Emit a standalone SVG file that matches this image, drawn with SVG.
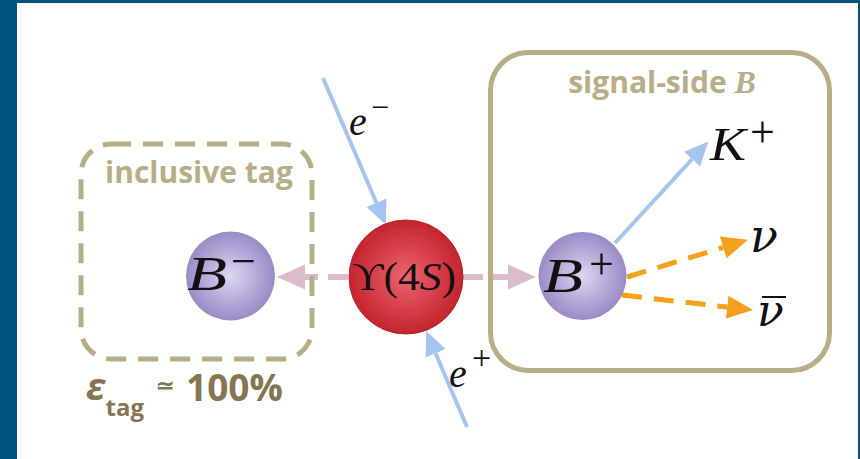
<svg xmlns="http://www.w3.org/2000/svg" width="860" height="459" viewBox="0 0 860 459">
  <style>
    .math { font-family: "Liberation Serif", "DejaVu Serif", serif; fill: #111; }
    .greek { font-family: "DejaVu Serif", "Liberation Serif", serif; font-style: italic; fill: #111; }
    .it { font-style: italic; }
    .boxlabel { font-family: "Open Sans", "Liberation Sans", sans-serif; font-weight: bold; fill: #b7ad87; }
    .eff { font-family: "Open Sans", "Liberation Sans", sans-serif; font-weight: bold; fill: #857552; }
    .box { fill: none; stroke: #b7ad87; stroke-width: 5; }
    .beam { stroke: #a6c4f0; stroke-width: 4; fill: none; }
    .nu { stroke: #f5a11c; stroke-width: 5; stroke-dasharray: 20 12; fill: none; }
    .decay { stroke: #dbbccb; stroke-width: 6; stroke-dasharray: 20 10; fill: none; }
  </style>
  <defs>
    <radialGradient id="gradB" cx="50%" cy="50%" r="50%">
      <stop offset="0" stop-color="#ddd6f3"/>
      <stop offset="1" stop-color="#9a8ac6"/>
    </radialGradient>
    <radialGradient id="gradU" cx="50%" cy="50%" r="50%">
      <stop offset="0" stop-color="#ec6470"/>
      <stop offset="1" stop-color="#c4242d"/>
    </radialGradient>
    <marker id="headBlue" markerUnits="userSpaceOnUse" markerWidth="24" markerHeight="24" refX="0" refY="10" orient="auto" viewBox="0 0 22 20">
      <path d="M0,0 L22,10 L0,20 z" fill="#a6c4f0"/>
    </marker>
    <marker id="headOrange" markerUnits="userSpaceOnUse" markerWidth="26" markerHeight="24" refX="0" refY="11" orient="auto" viewBox="0 0 25 22">
      <path d="M0,0 L25,11 L0,22 z" fill="#f5a11c"/>
    </marker>
    <marker id="headPink" markerUnits="userSpaceOnUse" markerWidth="28" markerHeight="26" refX="0" refY="12.5" orient="auto" viewBox="0 0 28 25">
      <path d="M0,0 L28,12.5 L0,25 z" fill="#dbbccb"/>
    </marker>
  </defs>

  <!-- page background and frame -->
  <rect x="0" y="0" width="860" height="459" fill="#ffffff"/>
  <rect x="0" y="0" width="17" height="459" fill="#02547f"/>
  <rect x="0" y="0" width="860" height="3" fill="#02547f"/>
  <rect x="858" y="0" width="2" height="459" fill="#02547f"/>

  <!-- connectors -->
  <g id="connectors">
    <!-- Upsilon(4S) -> B- and B+ -->
    <line class="decay" x1="348" y1="277" x2="305" y2="277" marker-end="url(#headPink)"/>
    <line class="decay" x1="463" y1="277" x2="508" y2="277" marker-end="url(#headPink)"/>
    <!-- incoming beams -->
    <line class="beam" x1="323" y1="78" x2="376.4" y2="202.8" marker-end="url(#headBlue)"/>
    <line class="beam" x1="467" y1="427" x2="435.6" y2="353.2" marker-end="url(#headBlue)"/>
    <!-- B+ decay products -->
    <line class="beam" x1="615" y1="243" x2="692.1" y2="159.2" marker-end="url(#headBlue)"/>
    <line class="nu" x1="627" y1="277" x2="723.1" y2="247.4" marker-end="url(#headOrange)"/>
    <line class="nu" x1="622" y1="295" x2="727.2" y2="307.1" marker-end="url(#headOrange)"/>
  </g>

  <!-- tag side -->
  <g id="tag-box">
    <rect class="box" x="81" y="144" width="231" height="215" rx="30" ry="30" stroke-dasharray="20 12"/>
    <text class="boxlabel" x="199" y="183" font-size="30" text-anchor="middle">inclusive tag</text>
  </g>

  <!-- signal side -->
  <g id="signal-box">
    <rect class="box" x="490.5" y="52.5" width="339" height="318" rx="38" ry="38"/>
    <text class="boxlabel" x="662" y="93" font-size="30" text-anchor="middle">signal-side <tspan font-family="Liberation Serif, serif" font-style="italic" font-size="32">B</tspan></text>
  </g>

  <g id="efficiency">
    <text class="eff" x="86" y="400" font-size="38"><tspan font-style="italic">ε</tspan><tspan font-size="24" dy="16">tag</tspan></text>
    <text class="eff" x="156" y="393" font-size="22">≃</text>
    <text class="eff" x="186" y="401" font-size="37">100%</text>
  </g>

  <g id="B-minus">
    <circle cx="230.5" cy="276" r="44.5" fill="url(#gradB)"/>
    <text class="math it" x="187" y="290" font-size="48" textLength="40" lengthAdjust="spacingAndGlyphs">B</text>
    <text class="math" x="231" y="276" font-size="44">−</text>
  </g>

  <g id="upsilon">
    <circle cx="406" cy="277" r="57" fill="url(#gradU)" stroke="#b52029" stroke-width="1"/>
    <text class="math" x="352" y="290" font-size="40" textLength="104" lengthAdjust="spacingAndGlyphs">ϒ(4<tspan font-style="italic">S</tspan>)</text>
  </g>

  <g id="B-plus">
    <circle cx="582.5" cy="276" r="44" fill="url(#gradB)"/>
    <text class="math it" x="543" y="292" font-size="48" textLength="40" lengthAdjust="spacingAndGlyphs">B</text>
    <text class="math" x="589" y="279" font-size="44">+</text>
  </g>

  <g id="e-minus">
    <text class="math it" x="349" y="135" font-size="40">e</text>
    <text class="math" x="371" y="118" font-size="32">−</text>
  </g>

  <g id="e-plus">
    <text class="math it" x="449" y="387" font-size="40">e</text>
    <text class="math" x="472" y="369" font-size="34">+</text>
  </g>

  <g id="K-plus">
    <text class="math it" x="710" y="160" font-size="46" textLength="36" lengthAdjust="spacingAndGlyphs">K</text>
    <text class="math" x="750" y="147" font-size="44">+</text>
  </g>

  <g id="nu">
    <text class="greek" x="750" y="252" font-size="46">ν</text>
  </g>

  <g id="nu-bar">
    <text class="greek" x="757" y="326" font-size="44">ν</text>
    <line x1="762" y1="297" x2="786" y2="297" stroke="#111" stroke-width="2"/>
  </g>
</svg>
